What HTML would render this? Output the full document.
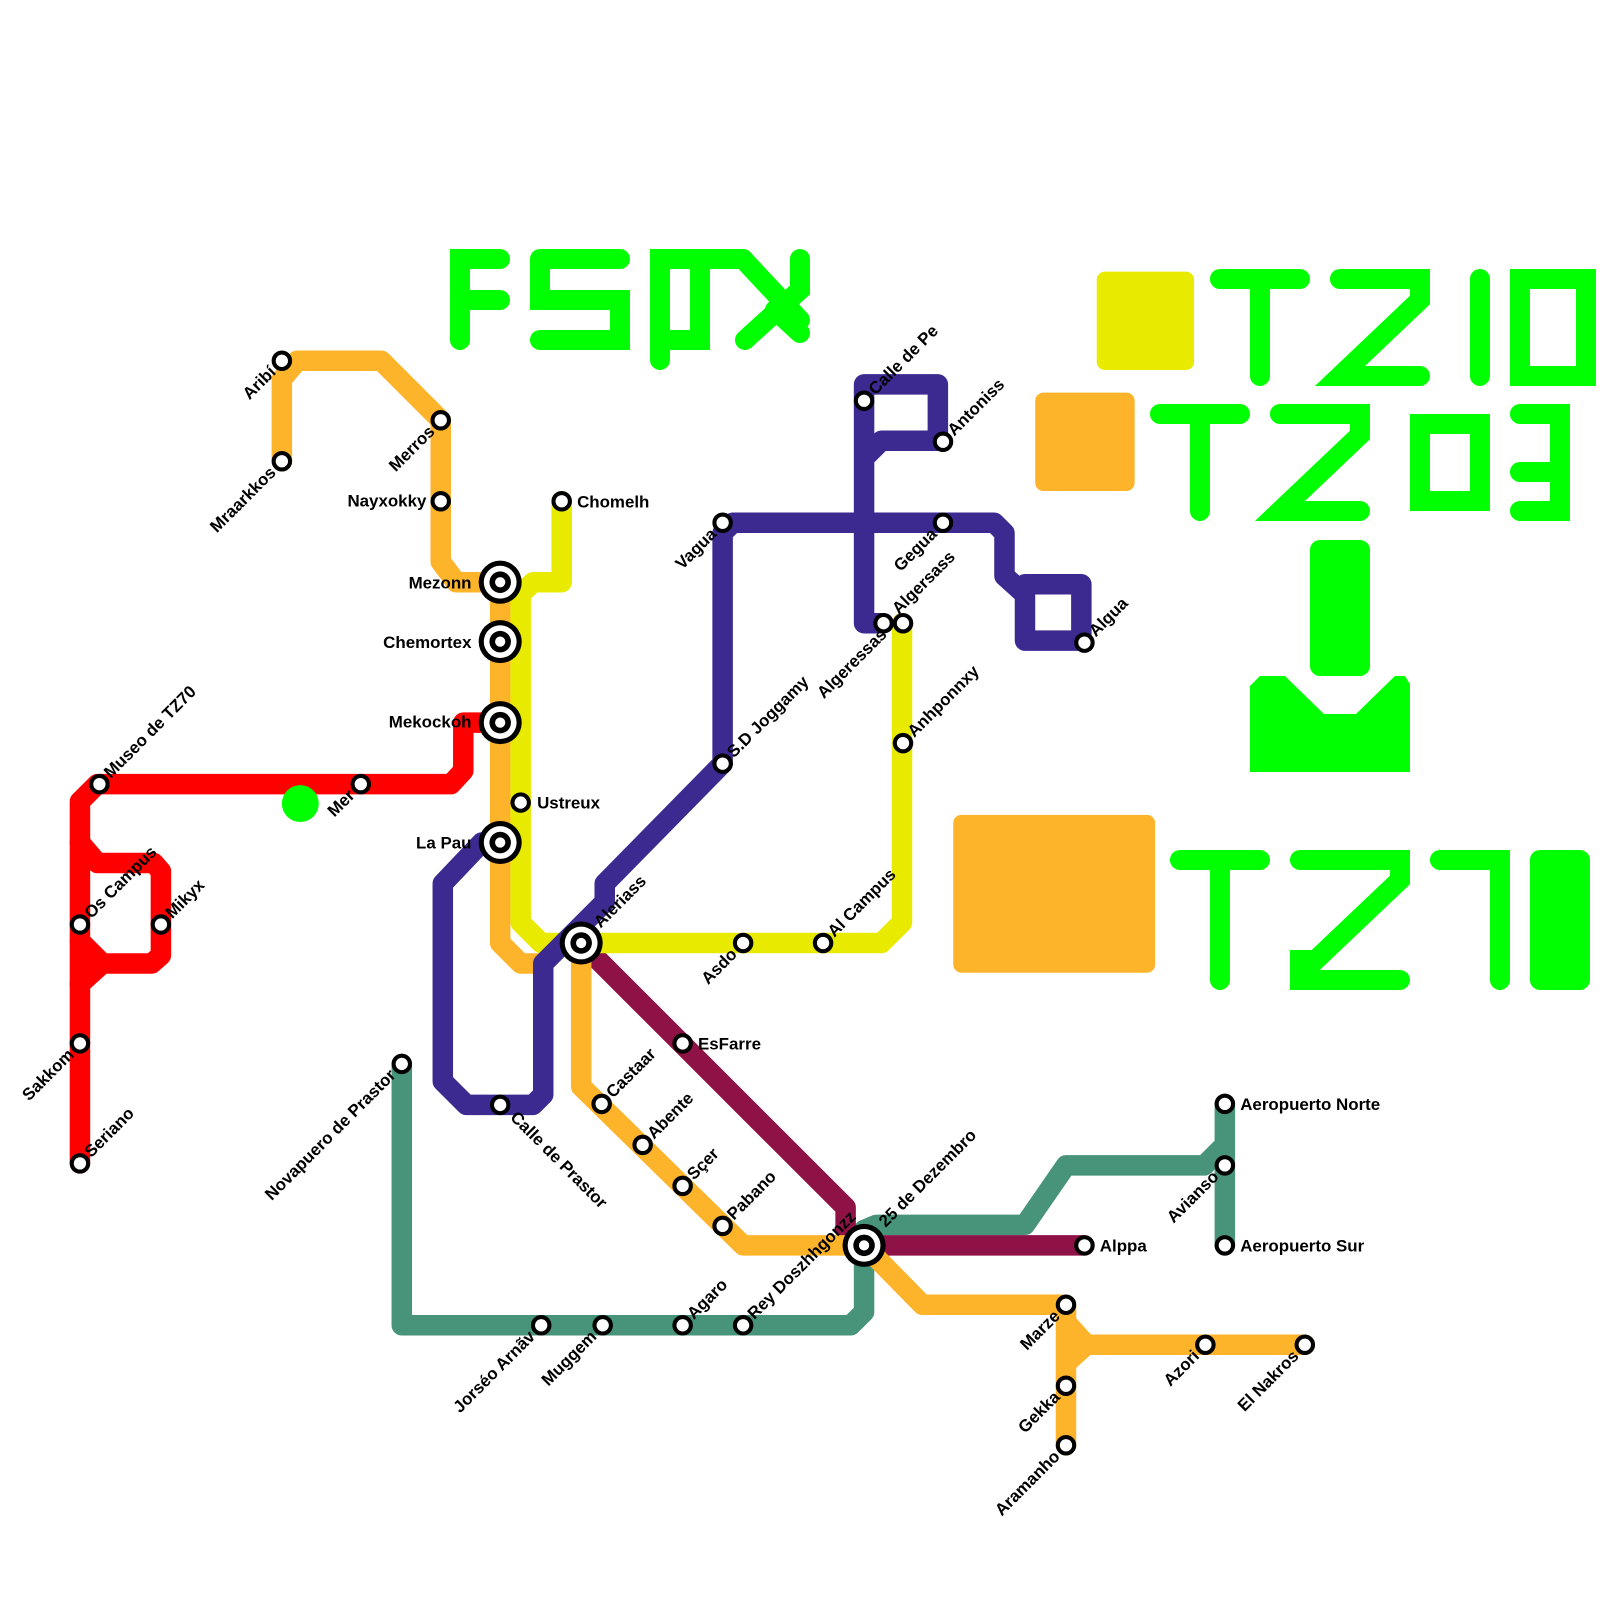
<!DOCTYPE html>
<html><head><meta charset="utf-8"><style>
html,body{margin:0;padding:0;background:#fff;}
svg{display:block;}
text{font-family:"Liberation Sans",Arial,sans-serif;font-weight:bold;font-size:16.5px;fill:#000;}
</style></head><body>
<svg width="1600" height="1600" viewBox="0 0 1561 1561" xmlns="http://www.w3.org/2000/svg">
<rect x="0" y="0" width="1561" height="1561" fill="#fff"/>
<rect x="1070" y="265" width="95" height="96" rx="8" fill="#e8eb00"/>
<rect x="1010" y="383" width="97" height="96" rx="8" fill="#fdb32a"/>
<rect x="930" y="795" width="197" height="154" rx="8" fill="#fdb32a"/>

<g transform="scale(0.9756)" fill="none" stroke="#00ff00" stroke-width="20" stroke-linecap="round" stroke-linejoin="miter">
 <path d="M460,340 V259 H500 M460,300 H500"/>
 <path d="M540,259 H620 M540,259 V300 H620 V340 H540"/>
 <path d="M700,259 V340 H660 V259 H743 M660,259 V360"/>
 <path d="M743,259 L800,320 M800,259 V290 L745,340 M775,310 L800,333"/>
 <path d="M1220,279 H1300 M1260,279 V376"/>
 <path d="M1340,279 H1420 V300 L1340,376 H1420"/>
 <path d="M1480,279 V376"/>
 <path d="M1520,279 H1586 V376 H1520 Z" stroke-linecap="butt"/>
 <path d="M1160,414 H1240 M1200,414 V511"/>
 <path d="M1280,414 H1360 V435 L1280,511 H1360"/>
 <path d="M1420,424 H1480 V501 H1420 Z"/>
 <path d="M1520,414 H1560 V511 H1520 M1520,472 H1560"/>
 <path d="M1180,860 H1260 M1220,860 V980"/>
 <path d="M1300,860 H1400 V880 L1300,975 V980 H1400"/>
 <path d="M1440,860 H1500 V980"/>
</g>
<g transform="scale(0.9756)" fill="#00ff00">
 <rect x="1310" y="540" width="60" height="136" rx="10"/>
 <polygon points="1250,686 1260,676 1285,676 1324,714 1356,714 1395,676 1405,676 1410,684 1410,772 1250,772"/>
 <rect x="1530" y="850" width="60" height="140" rx="10"/>
 <rect x="1290" y="950" width="30" height="40"/>
</g>

<g fill="none" stroke-width="20" stroke-linejoin="round" stroke-linecap="round">
 <path stroke="#47947a" d="M392,1040 V1293 H830 L843,1280 V1200 L855,1195 H1000 L1040,1137 H1175 L1195,1117 M1195,1077 V1215"/>
 <path stroke="#8e1245" d="M567,920 L825,1178 V1200 L840,1215 H1058"/>
 <path stroke="#fdb32a" d="M275,450 V370 L290,352 H372 L430,410 V548 L445,568 H488 V920 L508,940 H530"/>
 <path stroke="#fdb32a" d="M567,920 V1060 L725,1215 H843 L900,1273 H1040 V1410 M1040,1290 L1060,1312 H1273 M1040,1330 L1060,1312"/>
 <path stroke="#e8eb00" d="M548,489 V568 H520 L508,580 V900 L528,920 H860 L880,900 V608"/>
 <path stroke="#3d2a91" d="M705,745 V520 L715,510 H970 L980,520 V562 L1000,580 V625 H1055 V570 H1000"/>
 <path stroke="#3d2a91" d="M862,608 H843 V375 H915 V430 H860 L843,447"/>
 <path stroke="#3d2a91" d="M705,745 L590,862 V880 L530,940 V1068 L520,1078 H455 L432,1055 V862 L470,822"/>
 <path stroke="#ff0000" d="M78,1135 V782 L95,765 H440 L452,752 V705 H488"/>
 <path stroke="#ff0000" d="M78,822 L95,842 H150 L157,850 V932 L148,940 H100 L78,918 M78,960 L100,940"/>
</g>
<path d="M843,490 L863,510 L843,530 L823,510 Z" fill="#3d2a91"/>
<circle cx="293" cy="784" r="18" fill="#00ff00"/>

<g fill="#fff" stroke="#000" stroke-width="4">
 <circle cx="275" cy="352" r="8"/><circle cx="275" cy="450" r="8"/>
 <circle cx="430" cy="410" r="8"/><circle cx="430" cy="489" r="8"/>
 <circle cx="548" cy="489" r="8"/><circle cx="508" cy="783" r="8"/>
 <circle cx="705" cy="510" r="8"/><circle cx="705" cy="745" r="8"/>
 <circle cx="843" cy="391" r="8"/><circle cx="920" cy="431" r="8"/>
 <circle cx="920" cy="510" r="8"/><circle cx="862" cy="608" r="8"/>
 <circle cx="881" cy="608" r="8"/><circle cx="1058" cy="627" r="8"/>
 <circle cx="881" cy="725" r="8"/><circle cx="803" cy="920" r="8"/>
 <circle cx="725" cy="920" r="8"/><circle cx="666" cy="1018" r="8"/>
 <circle cx="587" cy="1077" r="8"/><circle cx="627" cy="1117" r="8"/>
 <circle cx="666" cy="1157" r="8"/><circle cx="705" cy="1196" r="8"/>
 <circle cx="725" cy="1293" r="8"/><circle cx="666" cy="1293" r="8"/>
 <circle cx="588" cy="1293" r="8"/><circle cx="528" cy="1293" r="8"/>
 <circle cx="392" cy="1038" r="8"/><circle cx="488" cy="1078" r="8"/>
 <circle cx="1058" cy="1215" r="8"/><circle cx="1195" cy="1077" r="8"/>
 <circle cx="1195" cy="1137" r="8"/><circle cx="1195" cy="1215" r="8"/>
 <circle cx="1040" cy="1273" r="8"/><circle cx="1040" cy="1352" r="8"/>
 <circle cx="1040" cy="1410" r="8"/><circle cx="1176" cy="1312" r="8"/>
 <circle cx="1273" cy="1312" r="8"/><circle cx="97" cy="765" r="8"/>
 <circle cx="352" cy="765" r="8"/><circle cx="78" cy="902" r="8"/>
 <circle cx="157" cy="902" r="8"/><circle cx="78" cy="1018" r="8"/>
 <circle cx="78" cy="1135" r="8"/>
</g>
<g>
 <g transform="translate(488,568)"><circle r="21" fill="#000"/><circle r="16" fill="#fff"/><circle r="10.5" fill="#000"/><circle r="5" fill="#fff"/></g>
 <g transform="translate(488,626)"><circle r="21" fill="#000"/><circle r="16" fill="#fff"/><circle r="10.5" fill="#000"/><circle r="5" fill="#fff"/></g>
 <g transform="translate(488,705)"><circle r="21" fill="#000"/><circle r="16" fill="#fff"/><circle r="10.5" fill="#000"/><circle r="5" fill="#fff"/></g>
 <g transform="translate(488,822)"><circle r="21" fill="#000"/><circle r="16" fill="#fff"/><circle r="10.5" fill="#000"/><circle r="5" fill="#fff"/></g>
 <g transform="translate(567,920)"><circle r="21" fill="#000"/><circle r="16" fill="#fff"/><circle r="10.5" fill="#000"/><circle r="5" fill="#fff"/></g>
 <g transform="translate(843,1215)"><circle r="21" fill="#000"/><circle r="16" fill="#fff"/><circle r="10.5" fill="#000"/><circle r="5" fill="#fff"/></g>
</g>

<text x="416" y="494" text-anchor="end">Nayxokky</text>
<text x="460" y="574" text-anchor="end">Mezonn</text>
<text x="460" y="632" text-anchor="end">Chemortex</text>
<text x="460" y="710" text-anchor="end">Mekockoh</text>
<text x="460" y="828" text-anchor="end">La Pau</text>
<text x="563" y="495">Chomelh</text>
<text x="524" y="789">Ustreux</text>
<text x="681" y="1024">EsFarre</text>
<text x="1073" y="1221">Alppa</text>
<text x="1210" y="1083">Aeropuerto Norte</text>
<text x="1210" y="1221">Aeropuerto Sur</text>

<text transform="translate(586,906) rotate(-45)">Aleriass</text>
<text transform="translate(716,740) rotate(-45)">S.D Joggamy</text>
<text transform="translate(854,386) rotate(-45)">Calle de Pe</text>
<text transform="translate(931,426) rotate(-45)">Antoniss</text>
<text transform="translate(877,600) rotate(-45)">Algersass</text>
<text transform="translate(1069,622) rotate(-45)">Algua</text>
<text transform="translate(892,720) rotate(-45)">Anhponnxy</text>
<text transform="translate(814,915) rotate(-45)">Al Campus</text>
<text transform="translate(598,1072) rotate(-45)">Castaar</text>
<text transform="translate(638,1112) rotate(-45)">Abente</text>
<text transform="translate(677,1152) rotate(-45)">Sçer</text>
<text transform="translate(716,1191) rotate(-45)">Pabano</text>
<text transform="translate(864,1198) rotate(-45)">25 de Dezembro</text>
<text transform="translate(736,1288) rotate(-45)">Rey Doszhhgonzz</text>
<text transform="translate(677,1288) rotate(-45)">Agaro</text>
<text transform="translate(108,760) rotate(-45)">Museo de TZ70</text>
<text transform="translate(89,897) rotate(-45)">Os Campus</text>
<text transform="translate(168,897) rotate(-45)">Mikyx</text>
<text transform="translate(89,1130) rotate(-45)">Seriano</text>
<text transform="translate(497,1091) rotate(45)">Calle de Prastor</text>

<text transform="translate(270,364) rotate(-45)" text-anchor="end">Aribí</text>
<text transform="translate(270,462) rotate(-45)" text-anchor="end">Mraarkkos</text>
<text transform="translate(425,422) rotate(-45)" text-anchor="end">Merros</text>
<text transform="translate(700,522) rotate(-45)" text-anchor="end">Vagua</text>
<text transform="translate(915,522) rotate(-45)" text-anchor="end">Gegua</text>
<text transform="translate(866,620) rotate(-45)" text-anchor="end">Algeressas</text>
<text transform="translate(720,932) rotate(-45)" text-anchor="end">Asdo</text>
<text transform="translate(583,1305) rotate(-45)" text-anchor="end">Muggem</text>
<text transform="translate(523,1305) rotate(-45)" text-anchor="end">Jorséo Arnãv</text>
<text transform="translate(387,1050) rotate(-45)" text-anchor="end">Novapuero de Prastor</text>
<text transform="translate(1190,1149) rotate(-45)" text-anchor="end">Avianso</text>
<text transform="translate(1035,1285) rotate(-45)" text-anchor="end">Marze</text>
<text transform="translate(1035,1364) rotate(-45)" text-anchor="end">Gekka</text>
<text transform="translate(1035,1422) rotate(-45)" text-anchor="end">Aramanho</text>
<text transform="translate(1171,1324) rotate(-45)" text-anchor="end">Azori</text>
<text transform="translate(1268,1324) rotate(-45)" text-anchor="end">El Nakros</text>
<text transform="translate(347,777) rotate(-45)" text-anchor="end">Mer</text>
<text transform="translate(73,1030) rotate(-45)" text-anchor="end">Sakkom</text>
</svg>
</body></html>
